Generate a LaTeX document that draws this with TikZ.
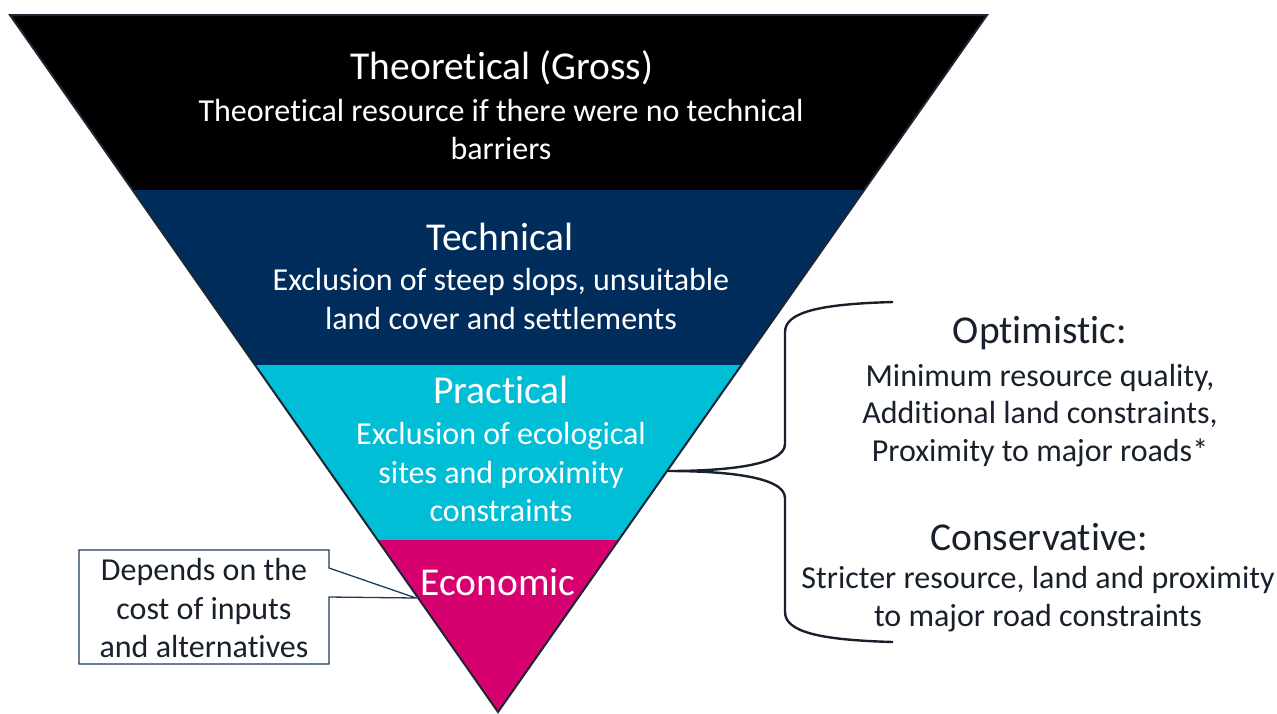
\documentclass[tikz,border=0pt]{standalone}
\usepackage{fontspec}
\setmainfont{Carlito}[Ligatures={NoCommon}]
\definecolor{navy}{HTML}{002D5C}
\definecolor{cyanb}{HTML}{00BED6}
\definecolor{magb}{HTML}{D6006E}
\definecolor{edge}{HTML}{1C2533}
\definecolor{txt}{HTML}{18202C}
\definecolor{boxb}{HTML}{1F3A5F}
\tikzset{
  head/.style={text=white,font=\fontsize{39.5}{46}\selectfont,anchor=center,inner sep=0pt},
  body/.style={text=white,font=\fontsize{32}{38.5}\selectfont,align=center,anchor=center,inner sep=0pt},
  rhead/.style={text=txt,font=\fontsize{39.5}{46}\selectfont,anchor=center,inner sep=0pt},
  rbody/.style={text=txt,font=\fontsize{32}{37.5}\selectfont,align=center,anchor=center,inner sep=0pt},
}
\begin{document}
\begin{tikzpicture}[x=1pt,y=-1pt]
\useasboundingbox (0,0) rectangle (1277,713);
% bands
\fill[black] (10,15) -- (987,15) -- (864.2,190) -- (132.5,190) -- cycle;
\fill[navy] (132.5,190) -- (864.2,190) -- (741.4,365) -- (255,365) -- cycle;
\fill[cyanb] (255,365) -- (741.4,365) -- (618.7,540) -- (377.6,540) -- cycle;
\fill[magb] (377.6,540) -- (618.7,540) -- (498,712) -- cycle;
\draw[edge,line width=2pt,line join=miter] (10,15) -- (987,15) -- (498,712) -- cycle;
% texts in triangle
\node[head] (tg) at (502,68) {Theoretical (Gross)};
\node[body] (tgd) at (501,129.5) {Theoretical resource if there were no technical\\barriers};
\node[head] (te) at (500,237) {Technical};
\node[body] (ted) at (501,299) {Exclusion of steep slops, unsuitable\\land cover and settlements};
\node[head] (pr) at (501,390) {Practical};
\node[body] (prd) at (501,472) {Exclusion of ecological\\sites and proximity\\constraints};
\node[head] (ec) at (498,582) {Economic};
% callout
\draw[boxb,fill=white,line width=1.3pt,line join=miter] (79,550) -- (329,550) -- (329,568) -- (416,598) -- (329,597) -- (329,664) -- (79,664) -- cycle;
\node[rbody,font=\fontsize{32}{38.5}\selectfont] (co) at (204,608) {Depends on the\\cost of inputs\\and alternatives};
% brace
\draw[txt,line width=2.4pt] (893,302) .. controls (820,304) and (785,312) .. (785,332) -- (785,444) .. controls (785,466) and (722,471) .. (668,471) .. controls (722,471) and (785,476) .. (785,498) -- (785,612) .. controls (785,632) and (820,640) .. (893,642);
% right texts
\node[rhead] (op) at (1040,333) {Optimistic:};
\node[rbody] (opd) at (1040,415.5) {Minimum resource quality,\\Additional land constraints,\\Proximity to major roads*};
\node[rhead] (cs) at (1039,537) {Conservative:};
\node[rbody] (csd) at (1038,599) {Stricter resource, land and proximity\\to major road constraints};
\end{tikzpicture}
\end{document}
